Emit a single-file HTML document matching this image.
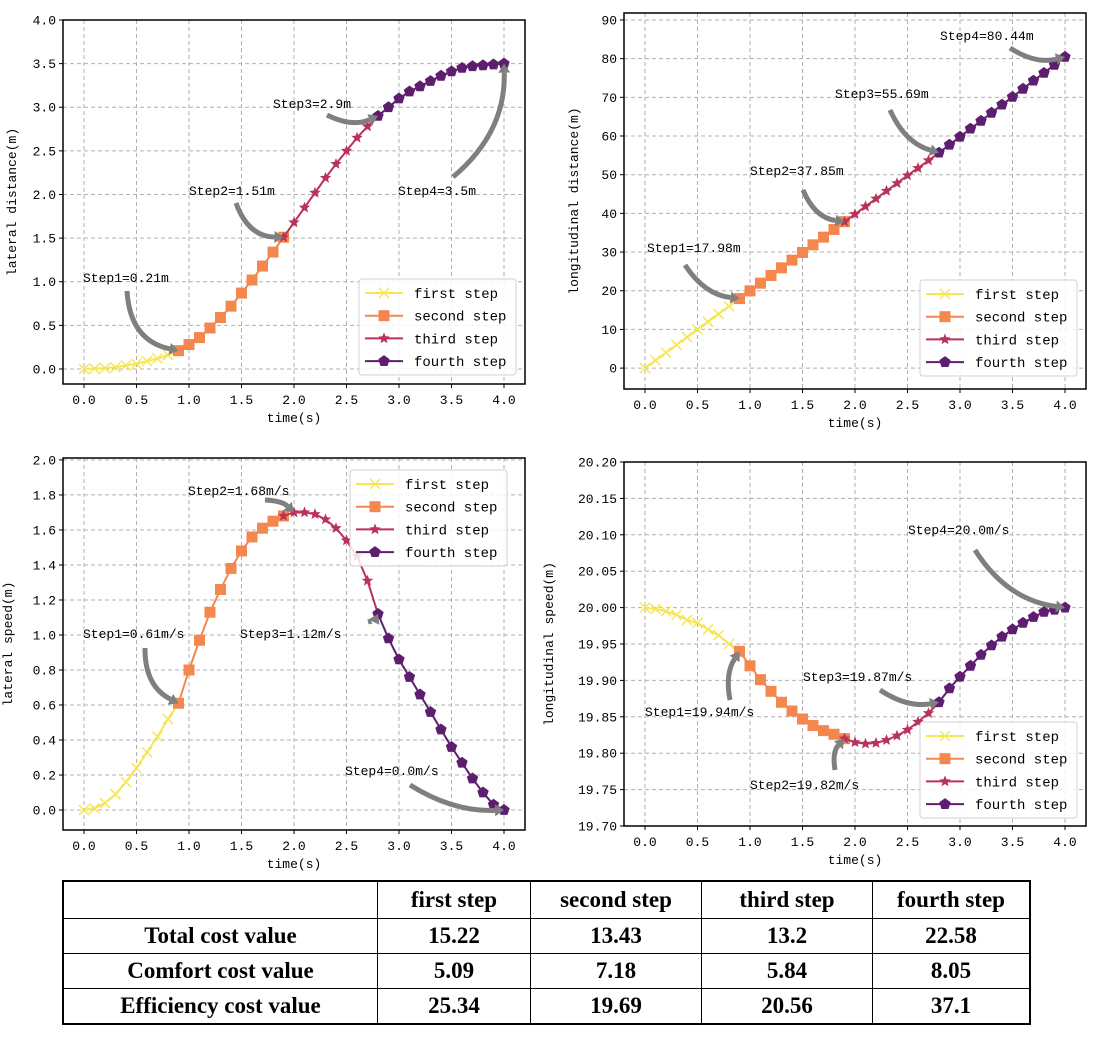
<!DOCTYPE html>
<html><head><meta charset="utf-8">
<style>
body{margin:0;background:#fff;width:1113px;height:1038px;overflow:hidden;position:relative;font-family:"Liberation Mono","Noto Sans CJK SC",monospace;}
svg{position:absolute;left:0;top:0}
table{position:absolute;left:62px;top:880px;border-collapse:collapse;font-family:"Liberation Serif",serif;font-weight:bold;font-size:23px;border:2px solid #000}
td{border:1.5px solid #000;text-align:center;padding:0;height:34px;line-height:32px}
</style></head><body>
<svg id="chart" width="1113" height="1038" xmlns="http://www.w3.org/2000/svg"></svg>
<table>
<tr style="height:37px"><td style="width:313px"></td><td style="width:152px">first step</td><td style="width:170px">second step</td><td style="width:170px">third step</td><td style="width:156px">fourth step</td></tr>
<tr><td>Total cost value</td><td>15.22</td><td>13.43</td><td>13.2</td><td>22.58</td></tr>
<tr><td>Comfort cost value</td><td>5.09</td><td>7.18</td><td>5.84</td><td>8.05</td></tr>
<tr><td>Efficiency cost value</td><td>25.34</td><td>19.69</td><td>20.56</td><td>37.1</td></tr>
</table>
<script>
// time categories per step
const tFirst=[0,0.1,0.2,0.3,0.4,0.5,0.6,0.7,0.8,0.9];
const tSecond=[0.9,1.0,1.1,1.2,1.3,1.4,1.5,1.6,1.7,1.8,1.9];
const tThird=[1.9,2.0,2.1,2.2,2.3,2.4,2.5,2.6,2.7,2.8];
const tFourth=[2.8,2.9,3.0,3.1,3.2,3.3,3.4,3.5,3.6,3.7,3.8,3.9,4.0];
const xTicks=[0,0.5,1,1.5,2,2.5,3,3.5,4];
const stepNames=["first step","second step","third step","fourth step"];
// chart 1 lateral distance
const latDistFirst=[0,0.005,0.01,0.02,0.04,0.06,0.09,0.12,0.16,0.21];
const latDistSecond=[0.21,0.28,0.36,0.47,0.59,0.72,0.87,1.02,1.18,1.34,1.51];
const latDistThird=[1.51,1.68,1.85,2.02,2.19,2.35,2.5,2.65,2.78,2.9];
const latDistFourth=[2.9,3.0,3.1,3.18,3.24,3.3,3.36,3.41,3.45,3.47,3.48,3.49,3.5];
const latDistTicks=[0,0.5,1,1.5,2,2.5,3,3.5,4];
const latDistLabels=["0.0","0.5","1.0","1.5","2.0","2.5","3.0","3.5","4.0"];
// chart 2 longitudinal distance
const lonDistFirst=[0,2,4,6,8,10,12,14,16,17.98];
const lonDistSecond=[17.98,19.97,21.96,23.94,25.93,27.91,29.89,31.87,33.85,35.83,37.85];
const lonDistThird=[37.85,39.8,41.8,43.8,45.8,47.8,49.8,51.7,53.7,55.69];
const lonDistFourth=[55.69,57.75,59.8,61.9,63.9,66.0,68.1,70.1,72.2,74.3,76.3,78.4,80.44];
const lonDistTicks=[0,10,20,30,40,50,60,70,80,90];
const lonDistLabels=["0","10","20","30","40","50","60","70","80","90"];
// chart 3 lateral speed
const latSpdFirst=[0,0.01,0.04,0.09,0.16,0.24,0.33,0.42,0.52,0.61];
const latSpdSecond=[0.61,0.8,0.97,1.13,1.26,1.38,1.48,1.56,1.61,1.65,1.68];
const latSpdThird=[1.68,1.70,1.70,1.69,1.66,1.61,1.54,1.45,1.31,1.12];
const latSpdFourth=[1.12,0.98,0.86,0.76,0.66,0.56,0.46,0.36,0.27,0.18,0.1,0.03,0.0];
const latSpdTicks=[0,0.2,0.4,0.6,0.8,1.0,1.2,1.4,1.6,1.8,2.0];
const latSpdLabels=["0.0","0.2","0.4","0.6","0.8","1.0","1.2","1.4","1.6","1.8","2.0"];
// chart 4 longitudinal speed
const lonSpdFirst=[20.0,19.998,19.995,19.99,19.983,19.979,19.97,19.962,19.95,19.94];
const lonSpdSecond=[19.94,19.92,19.901,19.885,19.87,19.858,19.847,19.838,19.831,19.826,19.82];
const lonSpdThird=[19.82,19.815,19.813,19.814,19.818,19.824,19.832,19.843,19.855,19.87];
const lonSpdFourth=[19.87,19.889,19.905,19.92,19.935,19.948,19.96,19.97,19.979,19.987,19.994,19.997,20.0];
const lonSpdTicks=[19.70,19.75,19.80,19.85,19.90,19.95,20.00,20.05,20.10,20.15,20.20];
const lonSpdLabels=["19.70","19.75","19.80","19.85","19.90","19.95","20.00","20.05","20.10","20.15","20.20"];

const colors=["#f6e655","#f4874e","#b83259","#5e1e6f"];
const markers=["x","square","star","pentagon"];
const NS="http://www.w3.org/2000/svg";
const svg=document.getElementById('chart');
function mk(tag,attrs,parent){const e=document.createElementNS(NS,tag);for(const k in attrs)e.setAttribute(k,attrs[k]);(parent||svg).appendChild(e);return e;}
function marker(g,type,x,y,c){
  let e;
  if(type==="x"){e=mk('path',{d:`M${x-5} ${y-5}L${x+5} ${y+5}M${x-5} ${y+5}L${x+5} ${y-5}`,stroke:c,'stroke-width':1.5,fill:'none'},g);}
  else if(type==="square"){e=mk('rect',{x:x-5.5,y:y-5.5,width:11,height:11,fill:c},g);}
  else if(type==="star"){let p=[];for(let i=0;i<10;i++){const r=i%2?2.6:6,a=-Math.PI/2+i*Math.PI/5;p.push((x+r*Math.cos(a)).toFixed(1)+","+(y+r*Math.sin(a)).toFixed(1));}e=mk('polygon',{points:p.join(" "),fill:c},g);}
  else {let p=[];for(let i=0;i<5;i++){const a=-Math.PI/2+i*2*Math.PI/5;p.push((x+6*Math.cos(a)).toFixed(1)+","+(y+6*Math.sin(a)).toFixed(1));}e=mk('polygon',{points:p.join(" "),fill:c},g);}
  
  
}
function arrow(g,x1,y1,x2,y2,bend){
  const mx=(x1+x2)/2,my=(y1+y2)/2,dx=x2-x1,dy=y2-y1,L=Math.hypot(dx,dy);
  const cx=mx-dy/L*bend,cy=my+dx/L*bend;
  const tx=x2-cx,ty=y2-cy,tl=Math.hypot(tx,ty),ux=tx/tl,uy=ty/tl;
  const bx=x2-ux*9,by=y2-uy*9;
  const p=mk('path',{d:`M${x1} ${y1}Q${cx} ${cy} ${bx} ${by}`,stroke:'#7f7f7f','stroke-width':5,fill:'none'},g);
  
  
  const h=mk('polygon',{points:`${x2},${y2} ${bx-uy*6},${by+ux*6} ${bx+uy*6},${by-ux*6}`,fill:'#7f7f7f'},g);
  
  
}
function chart(cfg){
  const g=mk('g',{});
  
  
  const {l,r,t,b}=cfg.box;
  const X=v=>l+(v-cfg.xd[0])/(cfg.xd[1]-cfg.xd[0])*(r-l);
  const Y=v=>b-(v-cfg.yd[0])/(cfg.yd[1]-cfg.yd[0])*(b-t);
  xTicks.forEach(v=>{
    const gl=mk('line',{x1:X(v),x2:X(v),y1:t,y2:b,stroke:'#b0b0b0','stroke-dasharray':'4,3','stroke-width':1},g);
    
    mk('line',{x1:X(v),x2:X(v),y1:b,y2:b+4,stroke:'#000'},g);
    const tx=mk('text',{x:X(v),y:b+20,'text-anchor':'middle','font-size':13,fill:'#000'},g);
    tx.textContent=v.toFixed(1);
    
  });
  cfg.yt.forEach((v,i)=>{
    const gl=mk('line',{x1:l,x2:r,y1:Y(v),y2:Y(v),stroke:'#b0b0b0','stroke-dasharray':'4,3','stroke-width':1},g);
    
    mk('line',{x1:l-4,x2:l,y1:Y(v),y2:Y(v),stroke:'#000'},g);
    const tx=mk('text',{x:l-7,y:Y(v)+4.5,'text-anchor':'end','font-size':13,fill:'#000'},g);
    tx.textContent=cfg.yl[i];
    
  });
  const xt=mk('text',{x:(X(0)+X(4))/2,y:b+38,'text-anchor':'middle','font-size':13},g);
  xt.textContent="time(s)";
  
  const yc=(t+b)/2;
  const yt=mk('text',{x:cfg.ytx,y:yc,'text-anchor':'middle','font-size':13,transform:`rotate(-90 ${cfg.ytx} ${yc})`},g);
  yt.textContent=cfg.ytitle;
  
  const ts=[tFirst,tSecond,tThird,tFourth];
  cfg.series.forEach((s,k)=>{
    const sg=mk('g',{},g);
    
    
    mk('polyline',{points:s.map((v,i)=>X(ts[k][i])+","+Y(v)).join(" "),fill:'none',stroke:colors[k],'stroke-width':2},sg);
    s.forEach((v,i)=>marker(sg,markers[k],X(ts[k][i]),Y(v),colors[k]));
  });
  cfg.ann.forEach(a=>{
    const tx=mk('text',{x:a.tx,y:a.ty,'font-size':13,fill:'#000'},g);
    tx.textContent=a.text;
    
    arrow(g,a.ax,a.ay,X(a.px),Y(a.py),a.bend);
  });
  const fr=mk('rect',{x:l,y:t,width:r-l,height:b-t,fill:'none',stroke:'#000','stroke-width':1.5},g);
  
  const L=cfg.leg;
  const lg=mk('g',{},g);
  
  mk('rect',{x:L.x,y:L.y,width:157,height:96,rx:3,fill:'#fff','fill-opacity':0.85,stroke:'#d0d0d0'},lg);
  stepNames.forEach((n,k)=>{
    const yy=L.y+14+k*22.7;
    mk('line',{x1:L.x+6,x2:L.x+44,y1:yy,y2:yy,stroke:colors[k],'stroke-width':2},lg);
    marker(lg,markers[k],L.x+25,yy,colors[k]);
    const tx=mk('text',{x:L.x+55,y:yy+5,'font-size':14},lg);
    tx.textContent=n;
    
  });
}
chart({name:'lateral-distance-chart',box:{l:63,r:525,t:20,b:384},xd:[-0.2,4.2],yd:[-0.172,4.0],yt:latDistTicks,yl:latDistLabels,ytitle:'lateral distance(m)',ytx:16,
 series:[latDistFirst,latDistSecond,latDistThird,latDistFourth],leg:{x:359,y:279},
 ann:[{text:'Step1=0.21m',tx:83,ty:282,ax:127,ay:291,px:0.9,py:0.21,bend:30},
      {text:'Step2=1.51m',tx:189,ty:195,ax:236,ay:203,px:1.9,py:1.51,bend:20},
      {text:'Step3=2.9m',tx:273,ty:108,ax:327,ay:115,px:2.8,py:2.9,bend:12},
      {text:'Step4=3.5m',tx:398,ty:195,ax:453,ay:177,px:4.0,py:3.5,bend:30}]});
chart({name:'longitudinal-distance-chart',box:{l:624,r:1086,t:13,b:389},xd:[-0.2,4.2],yd:[-5.4,91.8],yt:lonDistTicks,yl:lonDistLabels,ytitle:'longitudinal distance(m)',ytx:578,
 series:[lonDistFirst,lonDistSecond,lonDistThird,lonDistFourth],leg:{x:920,y:280},
 ann:[{text:'Step1=17.98m',tx:647,ty:252,ax:685,ay:265,px:0.9,py:17.98,bend:15},
      {text:'Step2=37.85m',tx:750,ty:175,ax:803,ay:190,px:1.9,py:37.85,bend:15},
      {text:'Step3=55.69m',tx:835,ty:98,ax:890,ay:110,px:2.8,py:55.69,bend:15},
      {text:'Step4=80.44m',tx:940,ty:40,ax:1010,ay:48,px:4.0,py:80.44,bend:12}]});
chart({name:'lateral-speed-chart',box:{l:63,r:525,t:458,b:830},xd:[-0.2,4.2],yd:[-0.114,2.011],yt:latSpdTicks,yl:latSpdLabels,ytitle:'lateral speed(m)',ytx:12,
 series:[latSpdFirst,latSpdSecond,latSpdThird,latSpdFourth],leg:{x:350,y:470},
 ann:[{text:'Step1=0.61m/s',tx:83,ty:638,ax:145,ay:648,px:0.9,py:0.61,bend:20},
      {text:'Step2=1.68m/s',tx:188,ty:495,ax:265,ay:500,px:2.0,py:1.70,bend:-6},
      {text:'Step3=1.12m/s',tx:240,ty:638,ax:368,ay:622,px:2.8,py:1.12,bend:3},
      {text:'Step4=0.0m/s',tx:345,ty:775,ax:410,ay:785,px:4.0,py:0.0,bend:15}]});
chart({name:'longitudinal-speed-chart',box:{l:624,r:1086,t:462,b:826},xd:[-0.2,4.2],yd:[19.70,20.20],yt:lonSpdTicks,yl:lonSpdLabels,ytitle:'longitudinal speed(m)',ytx:553,
 series:[lonSpdFirst,lonSpdSecond,lonSpdThird,lonSpdFourth],leg:{x:920,y:722},
 ann:[{text:'Step1=19.94m/s',tx:645,ty:716,ax:730,ay:700,px:0.9,py:19.94,bend:-10},
      {text:'Step2=19.82m/s',tx:750,ty:789,ax:835,ay:770,px:1.9,py:19.82,bend:-8},
      {text:'Step3=19.87m/s',tx:803,ty:681,ax:880,ay:690,px:2.8,py:19.87,bend:12},
      {text:'Step4=20.0m/s',tx:908,ty:534,ax:975,ay:550,px:4.0,py:20.0,bend:25}]});
</script>
</body></html>
